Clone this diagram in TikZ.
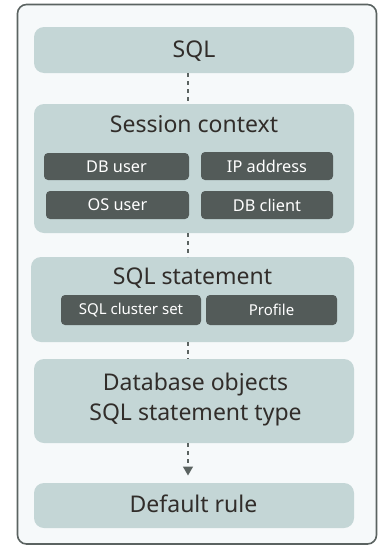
\documentclass[tikz,border=0pt]{standalone}
\usepackage{fontspec}
\setmainfont{Noto Sans}
\usetikzlibrary{arrows.meta}
\definecolor{frameline}{HTML}{5B6361}
\definecolor{framefill}{HTML}{F6F9FA}
\definecolor{boxfill}{HTML}{C4D6D6}
\definecolor{darkbox}{HTML}{535B59}
\definecolor{txt}{HTML}{312D2A}
\begin{document}
\begin{tikzpicture}[x=1pt,y=-1pt,
  bigbox/.style={fill=boxfill,rounded corners=10pt},
  subbox/.style={fill=darkbox,rounded corners=4pt},
  bigtext/.style={text=txt,font=\fontsize{23}{27}\selectfont,inner sep=0pt},
  subtext/.style={text=white,font=\fontsize{16.3}{19}\selectfont,inner sep=0pt},
  smalltext/.style={text=white,font=\fontsize{15}{18}\selectfont,inner sep=0pt},
  link/.style={draw=frameline,line width=1.4pt,dash pattern=on 4pt off 4pt}]
\useasboundingbox (0,0) rectangle (378,546);
\draw[frameline,fill=framefill,line width=1.6pt,rounded corners=9pt] (17.5,4.5) rectangle (376.5,544);
% boxes
\fill[bigbox] (34,27) rectangle (354,73);
\coordinate (sqlB) at (188,73);
\node[bigtext] (sql) at (194,51) {SQL};
\fill[bigbox] (34,104) rectangle (354,233);
\coordinate (sesT) at (188,104);
\coordinate (sesB) at (188,233);
\node[bigtext] (ses) at (194,124) {Session context};
\fill[subbox] (44,153) rectangle (189,180);
\node[subtext] (dbu) at (116.5,166.5) {DB user};
\fill[subbox] (201,152) rectangle (333,180);
\node[subtext] (ip) at (267,166) {IP address};
\fill[subbox] (46,191) rectangle (189,219);
\node[subtext] (osu) at (117.5,205) {OS user};
\fill[subbox] (201,191) rectangle (333,219);
\node[subtext] (dbc) at (267,205) {DB client};
\fill[bigbox] (31,257) rectangle (354,342);
\coordinate (stT) at (188,257);
\coordinate (stB) at (188,342);
\node[bigtext] (st) at (192.5,278) {SQL statement};
\fill[subbox] (61,295) rectangle (201,325);
\node[smalltext] (cl) at (131,310) {SQL cluster set};
\fill[subbox] (206,295) rectangle (337,325);
\node[smalltext] (pr) at (271.5,310) {Profile};
\fill[bigbox] (34,359) rectangle (354,443);
\coordinate (dbT) at (188,359);
\coordinate (dbB) at (188,443);
\node[bigtext] (dbo) at (195.5,385) {Database objects};
\node[bigtext] (sty) at (195.5,415) {SQL statement type};
\fill[bigbox] (34,483) rectangle (354,528);
\coordinate (drT) at (188,475.5);
\node[bigtext] (dr) at (193.5,504) {Default rule};
% links
\draw[link] (sqlB) -- (sesT);
\draw[link] (sesB) -- (stT);
\draw[link] (stB) -- (dbT);
\draw[link,-{Triangle[width=10pt,length=9pt]},shorten >=0pt] (dbB) -- (drT);
\end{tikzpicture}
\end{document}
